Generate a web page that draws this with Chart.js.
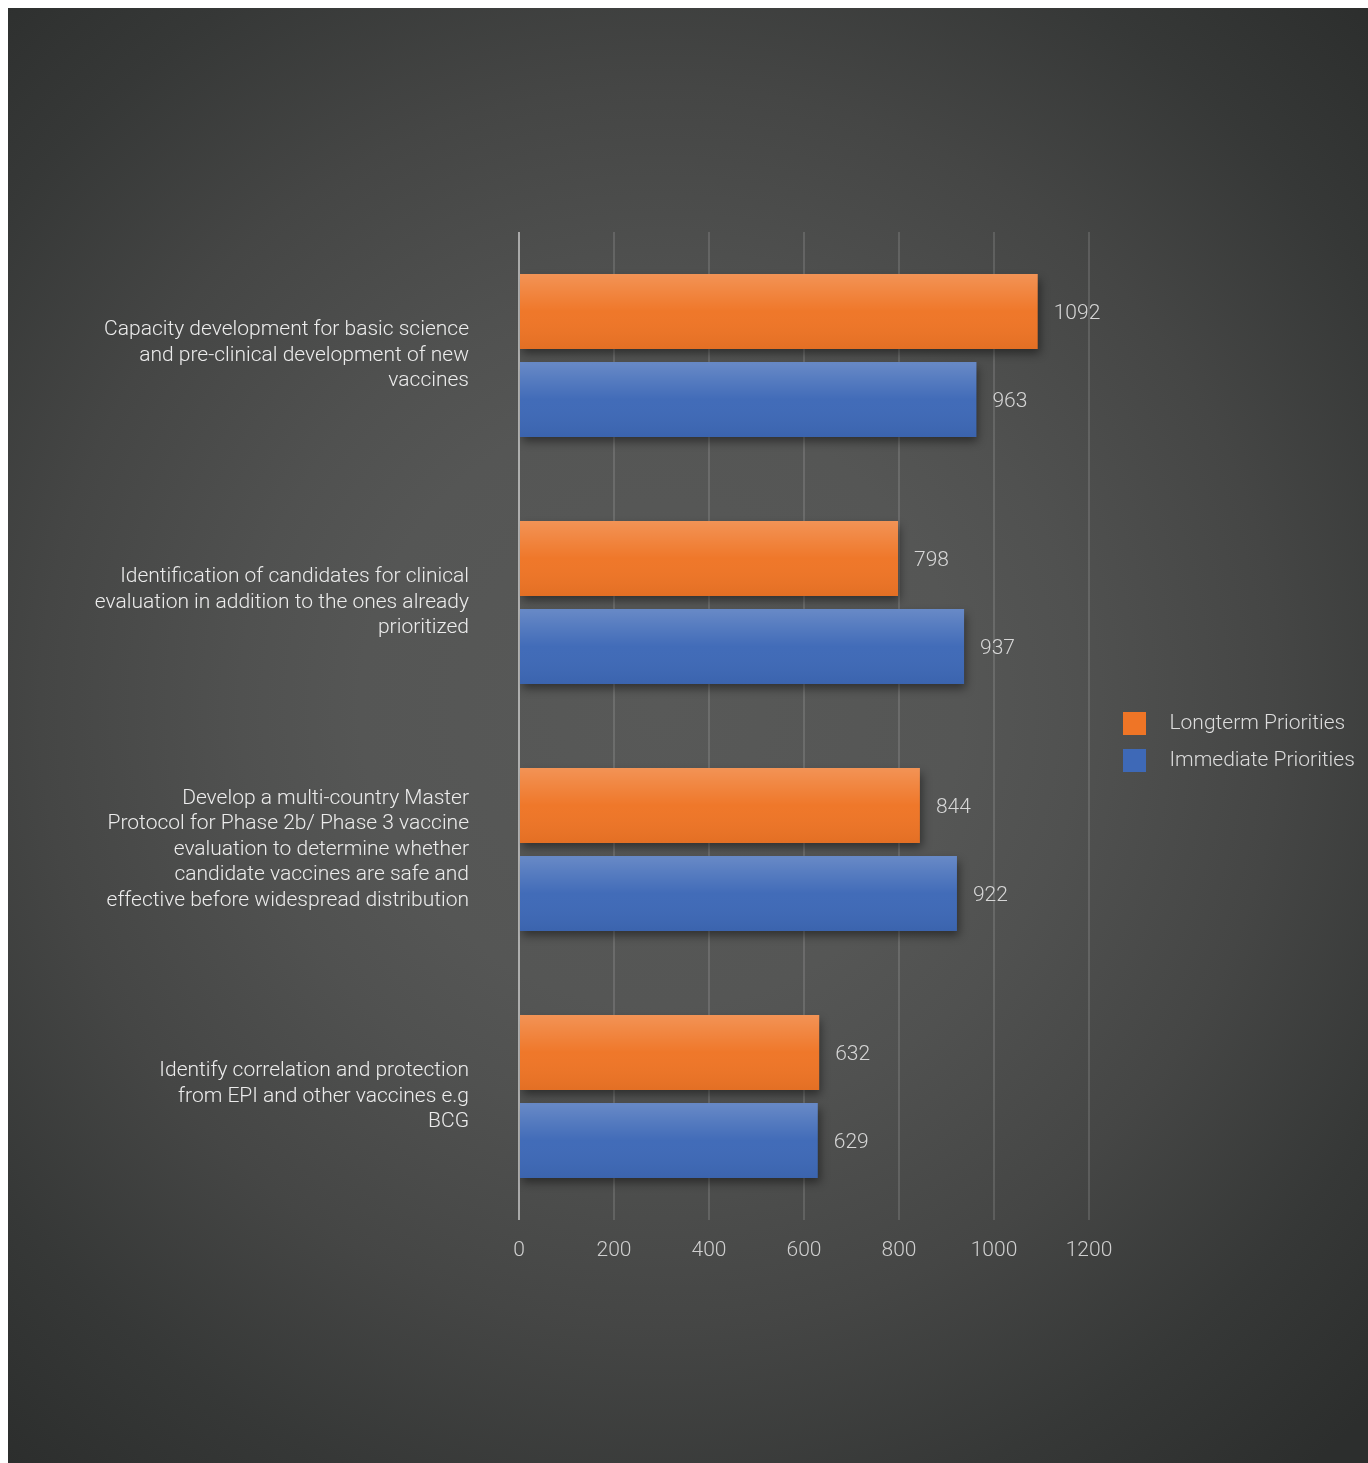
<!DOCTYPE html>
<html>
<head>
<meta charset="utf-8">
<title>Vaccine research priorities</title>
<script src="https://cdn.jsdelivr.net/npm/chart.js@4/dist/chart.umd.min.js"></script>
<style>
    html, body { margin: 0; padding: 0; overflow: hidden; background: #fff; }
    #wrap {
        position: absolute; left: 8px; top: 8px; width: 1360px; height: 1455px;
        background: radial-gradient(circle 1000px at 48% 48%, #585958 0%, #555655 30%, #505150 42%, #454645 62%, #363837 82%, #2c2e2d 100%);
    }
</style>
</head>
<body>
<div id="wrap"><canvas id="chart" width="1360" height="1455"></canvas></div>
<script>
// Chart data
const categories = [
    ['Capacity development for basic science', 'and pre-clinical development of new', 'vaccines'],
    ['Identification of candidates for clinical', 'evaluation in addition to the ones already', 'prioritized'],
    ['Develop a multi-country Master', 'Protocol for Phase 2b/ Phase 3 vaccine', 'evaluation to determine whether', 'candidate vaccines are safe and', 'effective before widespread distribution'],
    ['Identify correlation and protection', 'from EPI and other vaccines e.g', 'BCG']
];
const longtermValues = [1092, 798, 844, 632];
const immediateValues = [963, 937, 922, 629];
const xTicks = [0, 200, 400, 600, 800, 1000, 1200];

const FONT = 'Roboto, "Helvetica Neue", Arial, sans-serif';
const PLOT_RIGHT = 1081;
const ORANGE = '#ef7526';
const BLUE = '#3e69b7';

// legend swatch: 23px square plus some empty room before the text
function swatch(color) {
    const c = document.createElement('canvas');
    c.width = 36;
    c.height = 23;
    const g = c.getContext('2d');
    g.fillStyle = color;
    g.fillRect(0, 0, 23, 23);
    return c;
}

// Drop shadow under the bars
const barShadow = {
    id: 'barShadow',
    beforeDatasetsDraw(chart) {
        const ctx = chart.ctx;
        ctx.save();
        ctx.shadowColor = 'rgba(0, 0, 0, 0.45)';
        ctx.shadowBlur = 9;
        ctx.shadowOffsetX = 2;
        ctx.shadowOffsetY = 5;
    },
    afterDatasetsDraw(chart) {
        chart.ctx.restore();
    }
};

// Glossy vertical gradient + value labels
const barFinish = {
    id: 'barFinish',
    afterDatasetsDraw(chart) {
        const ctx = chart.ctx;
        chart.data.datasets.forEach(function (ds, i) {
            const meta = chart.getDatasetMeta(i);
            meta.data.forEach(function (bar, j) {
                const p = bar.getProps(['x', 'y', 'base', 'height'], true);
                const top = p.y - p.height / 2;
                const g = ctx.createLinearGradient(0, top, 0, top + p.height);
                g.addColorStop(0, 'rgba(255,255,255,0.22)');
                g.addColorStop(0.5, 'rgba(255,255,255,0.02)');
                g.addColorStop(1, 'rgba(0,0,0,0.05)');
                ctx.save();
                ctx.fillStyle = g;
                ctx.fillRect(p.base, top, p.x - p.base, p.height);
                ctx.restore();

                ctx.save();
                ctx.font = '300 21px ' + FONT;
                ctx.fillStyle = '#d6d6d6';
                ctx.textAlign = 'left';
                ctx.textBaseline = 'middle';
                ctx.fillText(String(ds.data[j]), p.x + 16, p.y + 2);
                ctx.restore();
            });
        });
        // zero line sits on top of the bars
        const xs = chart.scales.x;
        const x0 = xs.getPixelForValue(0);
        ctx.save();
        ctx.strokeStyle = 'rgba(255,255,255,0.45)';
        ctx.lineWidth = 2;
        ctx.beginPath();
        ctx.moveTo(x0, chart.chartArea.top);
        ctx.lineTo(x0, chart.chartArea.bottom);
        ctx.stroke();
        ctx.restore();
    }
};

// Move the legend block to where the reference has it
const legendNudge = {
    id: 'legendNudge',
    afterLayout(chart) {
        const lg = chart.legend;
        if (!lg) return;
        const dx = 1115 - 16 - lg.left;
        lg.left += dx;
        lg.right += dx;
        lg.top -= 14;
        lg.bottom -= 14;
    }
};

const chart = new Chart(document.getElementById('chart'), {
    type: 'bar',
    data: {
        labels: categories,
        datasets: [{
            label: 'Longterm Priorities',
            data: longtermValues,
            backgroundColor: ORANGE,
            pointStyle: swatch(ORANGE),
            borderWidth: 0
        }, {
            label: 'Immediate Priorities',
            data: immediateValues,
            backgroundColor: BLUE,
            pointStyle: swatch(BLUE),
            borderWidth: 0
        }]
    },
    options: {
        indexAxis: 'y',
        responsive: false,
        animation: false,
        categoryPercentage: 0.713,
        barPercentage: 0.852,
        layout: {
            padding: { top: 224, left: 0, right: 40, bottom: 183 }
        },
        scales: {
            x: {
                min: 0,
                max: 1200,
                afterBuildTicks(scale) {
                    scale.ticks = xTicks.map(function (v) { return { value: v }; });
                },
                afterFit(scale) { scale.height = 60; },
                grid: {
                    color: 'rgba(255,255,255,0.13)',
                    lineWidth: 2,
                    drawTicks: false
                },
                border: { display: false },
                ticks: {
                    color: '#cfcfcf',
                    padding: 18,
                    font: { family: FONT, size: 21, weight: 300 },
                    callback: function (v) { return String(v); }
                }
            },
            y: {
                afterFit(scale) { scale.width = 511; },
                grid: { display: false, drawTicks: false },
                border: { display: false },
                ticks: {
                    color: '#ececec',
                    padding: 50,
                    font: { family: FONT, size: 21, weight: 300, lineHeight: 1.215 }
                }
            }
        },
        plugins: {
            legend: {
                position: 'right',
                labels: {
                    color: '#dcdcdc',
                    usePointStyle: true,
                    pointStyleWidth: 36,
                    boxHeight: 23,
                    padding: 16,
                    font: { family: FONT, size: 21, weight: 300 }
                }
            },
            tooltip: { enabled: false }
        }
    },
    plugins: [barShadow, barFinish, legendNudge]
});

// keep the plot's right edge at the 1200 line of the reference
const off = chart.chartArea.right - PLOT_RIGHT;
if (Math.abs(off) > 0.5) {
    chart.options.layout.padding.right += off;
    chart.update();
}
</script>
</body>
</html>
